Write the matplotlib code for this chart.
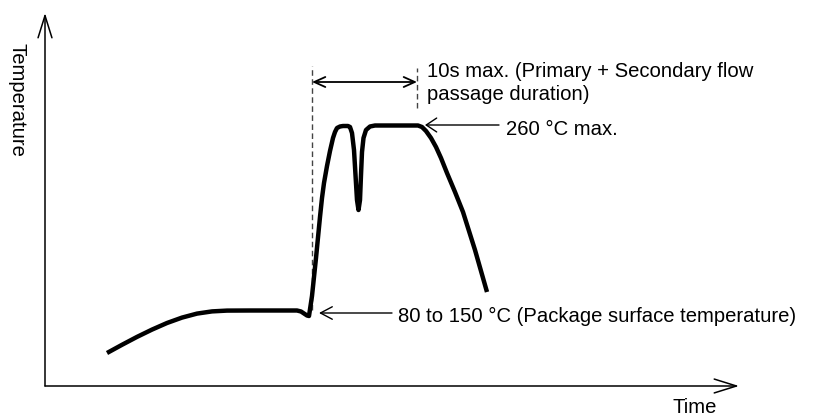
import matplotlib
matplotlib.use('Agg')
from matplotlib import pyplot as plt

plt.rcParams['font.family'] = ['Liberation Sans', 'DejaVu Sans']

# Flow soldering temperature profile (schematic units: time and temperature)
time_pts = [62, 77, 92, 107, 122, 137, 152, 167, 182, 205, 252, 256, 259, 262, 264,
            267, 271, 275, 277, 279, 282, 285, 288, 290, 292, 295, 298, 303, 305, 307,
            309, 310.5, 312, 313.5, 315, 316, 317, 318.5, 321, 325, 330, 335, 373, 377,
            381, 386, 391, 396, 402, 410, 418, 430, 442]
temp_pts = [33, 41.2, 49.1, 56.4, 63, 68.4, 72.4, 74.6, 75.4, 75.5, 75.5, 74.5, 72.5, 70.5, 70,
            90, 128, 169, 188, 203, 220, 235, 248, 254, 258, 259.5, 260, 260, 259, 253,
            236, 211, 186, 176, 186, 211, 234, 248, 256, 259.5, 260.5, 260.5, 260.5, 259,
            255, 248, 239, 228, 213, 194, 174, 136, 94]

# markers on the profile
flow_start, flow_end = 267, 372
flow_span_level = 304
peak_point = (380, 261)
preheat_point = (274, 73)

label_flow = "10s max. (Primary + Secondary flow\npassage duration)"
label_peak = "260 \u00b0C max."
label_preheat = "80 to 150 \u00b0C (Package surface temperature)"

FS = 14.6


def arrow(ax, tip, tail, style, lw):
    ax.annotate('', xy=tip, xytext=tail,
                arrowprops=dict(arrowstyle=style, lw=lw, color='black',
                                shrinkA=0, shrinkB=0, mutation_scale=10))


def main():
    fig = plt.figure(figsize=(8.2, 4.16), dpi=100)
    ax = fig.add_axes([0, 0, 1, 1])
    ax.set_xlim(-45, 775)
    ax.set_ylim(-30, 386)
    ax.axis('off')

    # axes with arrow heads
    arrow(ax, (694, 0), (0, 0), '->,head_length=1.6,head_width=0.5', 1.1)
    arrow(ax, (0, 373), (0, 0), '->,head_length=1.6,head_width=0.5', 1.1)
    ax.text(650, -27, 'Time', fontsize=FS, ha='center', va='baseline')
    ax.text(-28, 343, 'Temperature', fontsize=FS, rotation=-90, ha='center', va='top')

    # dashed guides of the flow passage
    ax.plot([flow_start, flow_start], [76, 320], color='#444444', lw=1,
            linestyle=(0, (4, 2.5)))
    ax.plot([flow_end, flow_end], [278, 318], color='#444444', lw=1,
            linestyle=(0, (4, 2.5)))
    arrow(ax, (flow_end, flow_span_level), (flow_start, flow_span_level),
          '<->,head_length=0.8,head_width=0.36', 1.3)

    # profile curve
    ax.plot(time_pts, temp_pts, color='black', lw=3.2,
            solid_joinstyle='round', solid_capstyle='butt')

    # annotations
    ax.text(382, 285.5, label_flow, fontsize=FS, ha='left', va='baseline',
            linespacing=1.3)
    arrow(ax, peak_point, (peak_point[0] + 74, peak_point[1]),
          '->,head_length=0.75,head_width=0.5', 1)
    ax.text(461, 251, label_peak, fontsize=FS, ha='left', va='baseline')
    arrow(ax, preheat_point, (preheat_point[0] + 73, preheat_point[1]),
          '->,head_length=0.85,head_width=0.45', 1)
    ax.text(353, 64.3, label_preheat, fontsize=FS, ha='left', va='baseline')

    fig.savefig('out.png', dpi=100)


if __name__ == "__main__":
    main()
